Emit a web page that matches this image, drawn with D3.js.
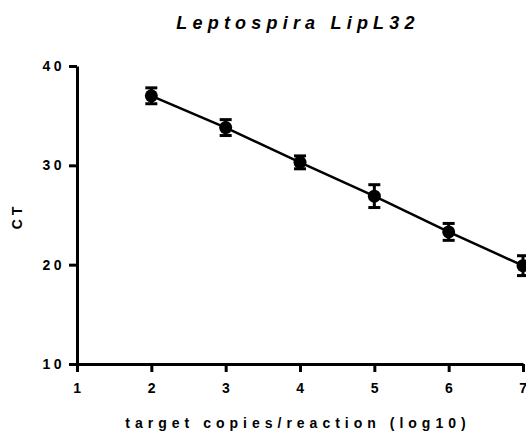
<!DOCTYPE html>
<html>
<head>
<meta charset="utf-8">
<script src="https://cdn.jsdelivr.net/npm/d3@7"></script>
<style>
  body { margin: 0; background: #fff; }
  text { font-family: "Liberation Sans", Arial, sans-serif; font-weight: bold; fill: #000; }
</style>
</head>
<body>
<svg id="chart" width="526" height="434"></svg>
<script>
// data
const logCopies = [2, 3, 4, 5, 6, 7]
const ctMean = [37.0, 33.8, 30.3, 26.9, 23.3, 19.9]
const ctErr = [0.8, 0.8, 0.65, 1.15, 0.85, 1.0]
const xTicks = [1, 2, 3, 4, 5, 6, 7]
const yTicks = [10, 20, 30, 40]

const svg = d3.select("#chart")

const x = d3.scaleLinear().domain([1, 7]).range([77, 523])
const y = d3.scaleLinear().domain([10, 40]).range([364, 66])

// title
svg.append("text")
  .attr("x", 298)
  .attr("y", 29)
  .attr("text-anchor", "middle")
  .attr("font-size", "18px")
  .attr("font-style", "italic")
  .attr("letter-spacing", "5.2px")
  .text("Leptospira LipL32")

// axes
const xAxis = svg.append("g")
  .attr("transform", `translate(0,${y(10)})`)
  .call(d3.axisBottom(x).tickValues(xTicks).tickFormat(d3.format("d"))
    .tickSize(8).tickSizeOuter(0).tickPadding(11))
const yAxis = svg.append("g")
  .attr("transform", `translate(${x(1)},0)`)
  .call(d3.axisLeft(y).tickValues(yTicks).tickFormat(d3.format("d"))
    .tickSize(8).tickSizeOuter(0).tickPadding(4))

for (const g of [xAxis, yAxis]) {
  g.select(".domain").attr("stroke", "#000").attr("stroke-width", 3)
  g.selectAll(".tick line").attr("stroke", "#000").attr("stroke-width", 3)
  g.selectAll(".tick text")
    .attr("font-size", "14px")
    .attr("font-family", "Liberation Sans, Arial, sans-serif")
    .attr("font-weight", "bold")
    .attr("letter-spacing", "3.5px")
}
xAxis.selectAll(".tick text").attr("dx", "1.5px")

// axis titles
svg.append("text")
  .attr("x", 298)
  .attr("y", 428)
  .attr("text-anchor", "middle")
  .attr("font-size", "14px")
  .attr("letter-spacing", "5px")
  .text("target copies/reaction (log10)")

svg.append("text")
  .attr("transform", "translate(22,216) rotate(-90)")
  .attr("text-anchor", "middle")
  .attr("font-size", "14px")
  .attr("letter-spacing", "4px")
  .text("CT")

const pts = logCopies.map((d, i) => ({x: d, y: ctMean[i], e: ctErr[i]}))

// connecting line
svg.append("path")
  .datum(pts)
  .attr("fill", "none")
  .attr("stroke", "#000")
  .attr("stroke-width", 2.5)
  .attr("d", d3.line().x(d => x(d.x)).y(d => y(d.y)))

// error bars
const eb = svg.selectAll(".err").data(pts).enter().append("g").attr("class", "err")
eb.append("line")
  .attr("x1", d => x(d.x)).attr("x2", d => x(d.x))
  .attr("y1", d => y(d.y + d.e)).attr("y2", d => y(d.y - d.e))
  .attr("stroke", "#000").attr("stroke-width", 3)
eb.append("line")
  .attr("x1", d => x(d.x) - 6).attr("x2", d => x(d.x) + 6)
  .attr("y1", d => y(d.y + d.e)).attr("y2", d => y(d.y + d.e))
  .attr("stroke", "#000").attr("stroke-width", 3)
eb.append("line")
  .attr("x1", d => x(d.x) - 6).attr("x2", d => x(d.x) + 6)
  .attr("y1", d => y(d.y - d.e)).attr("y2", d => y(d.y - d.e))
  .attr("stroke", "#000").attr("stroke-width", 3)

// markers
svg.selectAll(".dot").data(pts).enter().append("circle")
  .attr("class", "dot")
  .attr("cx", d => x(d.x))
  .attr("cy", d => y(d.y))
  .attr("r", 6.5)
  .attr("fill", "#000")
</script>
</body>
</html>
